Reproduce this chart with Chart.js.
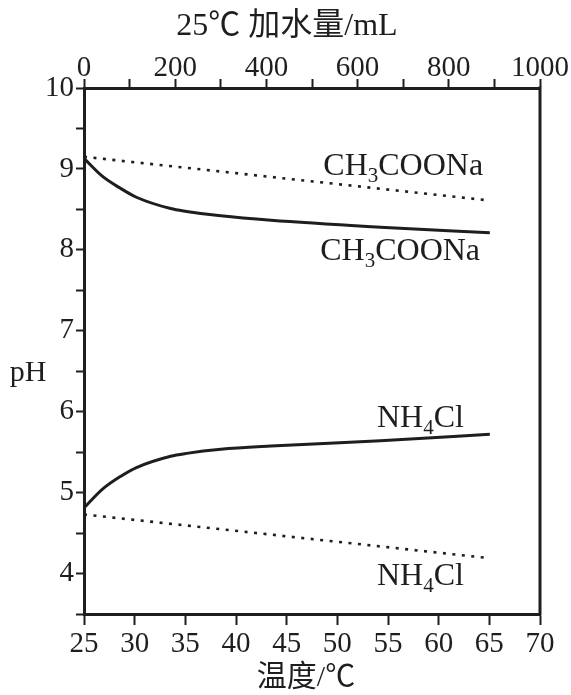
<!DOCTYPE html>
<html>
<head>
<meta charset="utf-8">
<script src="https://cdn.jsdelivr.net/npm/chart.js@4"></script>
<style>
  html, body { margin: 0; padding: 0; background: #fff; }
  canvas { display: block; }
</style>
</head>
<body>
<canvas id="phChart" width="571" height="695"></canvas>
<script>
// values
const tempC = [25, 45, 65];
const naTempPH = [9.15, 8.88, 8.61];
const nhTempPH = [4.73, 4.46, 4.19];

const waterML = [0, 40, 80, 115, 190, 225, 300, 410, 650, 890];
const naWaterPH = [9.13, 8.91, 8.76, 8.65, 8.51, 8.475, 8.42, 8.365, 8.28, 8.21];
const nhWaterPH = [4.81, 5.04, 5.20, 5.31, 5.45, 5.485, 5.535, 5.575, 5.64, 5.72];

// curve labels (formula split as main / subscript / rest), anchored on temp + pH
const labelParts = [["CH", "3", "COONa"], ["CH", "3", "COONa"], ["NH", "4", "Cl"], ["NH", "4", "Cl"]];
const labelTemp = [56.5, 56.2, 58.2, 58.2];
const labelPH = [8.92, 7.88, 5.81, 3.86];

const topTitle = "25℃ 加水量/mL";
const bottomTitle = "温度/℃";

const SERIF = '"Liberation Serif", "Noto Sans CJK SC", serif';
const INK = "#1e1e1e";

function toPoints(xs, ys) {
  return xs.map((x, i) => ({ x: x, y: ys[i] }));
}

function drawFormula(ctx, parts, cx, baseY) {
  const big = "32px " + SERIF;
  const small = "21px " + SERIF;
  ctx.font = big;
  const w1 = ctx.measureText(parts[0]).width;
  const w3 = ctx.measureText(parts[2]).width;
  ctx.font = small;
  const w2 = ctx.measureText(parts[1]).width;
  let x = cx - (w1 + w2 + w3) / 2;
  ctx.textAlign = "left";
  ctx.textBaseline = "alphabetic";
  ctx.font = big;
  ctx.fillText(parts[0], x, baseY);
  x += w1;
  ctx.font = small;
  ctx.fillText(parts[1], x, baseY + 7);
  x += w2;
  ctx.font = big;
  ctx.fillText(parts[2], x, baseY);
}

const frameAndLabels = {
  id: "frameAndLabels",
  afterDraw(chart) {
    const { ctx, chartArea: area, scales } = chart;
    ctx.save();
    ctx.strokeStyle = INK;
    ctx.lineWidth = 3;
    ctx.beginPath();
    ctx.moveTo(area.right, area.top - 1.5);
    ctx.lineTo(area.right, area.bottom + 1.5);
    ctx.stroke();

    ctx.fillStyle = INK;
    ctx.textAlign = "center";
    ctx.textBaseline = "middle";
    ctx.font = "30px " + SERIF;
    ctx.fillText("pH", area.left - 56, scales.y.getPixelForValue(6.48));

    // axis titles
    ctx.font = "32px " + SERIF;
    ctx.fillText(topTitle, area.left + 203, 27);
    ctx.font = "30px " + SERIF;
    ctx.fillText(bottomTitle, area.left + 222, area.bottom + 64);

    labelParts.forEach((parts, i) => {
      drawFormula(ctx, parts, scales.x.getPixelForValue(labelTemp[i]), scales.y.getPixelForValue(labelPH[i]));
    });
    ctx.restore();
  },
};

const tickFont = { family: SERIF, size: 29 };

new Chart(document.getElementById("phChart"), {
  type: "line",
  data: {
    datasets: [
      {
        data: toPoints(tempC, naTempPH),
        xAxisID: "x",
        borderColor: INK,
        borderWidth: 2.6,
        borderDash: [3, 6.5],
        pointRadius: 0,
      },
      {
        data: toPoints(tempC, nhTempPH),
        xAxisID: "x",
        borderColor: INK,
        borderWidth: 2.6,
        borderDash: [3, 6.5],
        pointRadius: 0,
      },
      {
        data: toPoints(waterML, naWaterPH),
        xAxisID: "x2",
        borderColor: INK,
        borderWidth: 3,
        cubicInterpolationMode: "monotone",
        pointRadius: 0,
      },
      {
        data: toPoints(waterML, nhWaterPH),
        xAxisID: "x2",
        borderColor: INK,
        borderWidth: 3,
        cubicInterpolationMode: "monotone",
        pointRadius: 0,
      },
    ],
  },
  options: {
    responsive: false,
    animation: false,
    devicePixelRatio: 1,
    layout: { padding: { left: 0, right: 31, top: 0, bottom: 0 } },
    plugins: { legend: { display: false }, tooltip: { enabled: false } },
    scales: {
      x: {
        type: "linear",
        position: "bottom",
        min: 25,
        max: 70,
        ticks: {
          stepSize: 5,
          color: INK,
          font: tickFont,
          padding: 2,
          maxRotation: 0,
          autoSkip: false,
          callback: (v) => String(v),
        },
        grid: { drawOnChartArea: false, tickLength: 11, tickWidth: 2, tickColor: INK },
        border: { color: INK, width: 3 },
        afterFit(scale) {
          scale.height = 81;
        },
      },
      x2: {
        type: "linear",
        position: "top",
        min: 0,
        max: 1000,
        ticks: {
          stepSize: 100,
          color: INK,
          font: tickFont,
          padding: -7,
          maxRotation: 0,
          autoSkip: false,
          callback: (v) => (v % 200 === 0 ? String(v) : ""),
        },
        grid: { drawOnChartArea: false, tickLength: 9, tickWidth: 2, tickColor: INK },
        border: { color: INK, width: 3 },
        afterFit(scale) {
          scale.height = 88;
        },
      },
      y: {
        min: 3.5,
        max: 10,
        ticks: {
          stepSize: 0.5,
          color: INK,
          font: tickFont,
          padding: 2,
          autoSkip: false,
          callback: (v) => (Number.isInteger(v) ? String(v) : ""),
        },
        grid: { drawOnChartArea: false, tickLength: 8, tickWidth: 2, tickColor: INK },
        border: { color: INK, width: 3 },
        afterFit(scale) {
          scale.width = 84;
        },
      },
    },
  },
  plugins: [frameAndLabels],
});
</script>
</body>
</html>
